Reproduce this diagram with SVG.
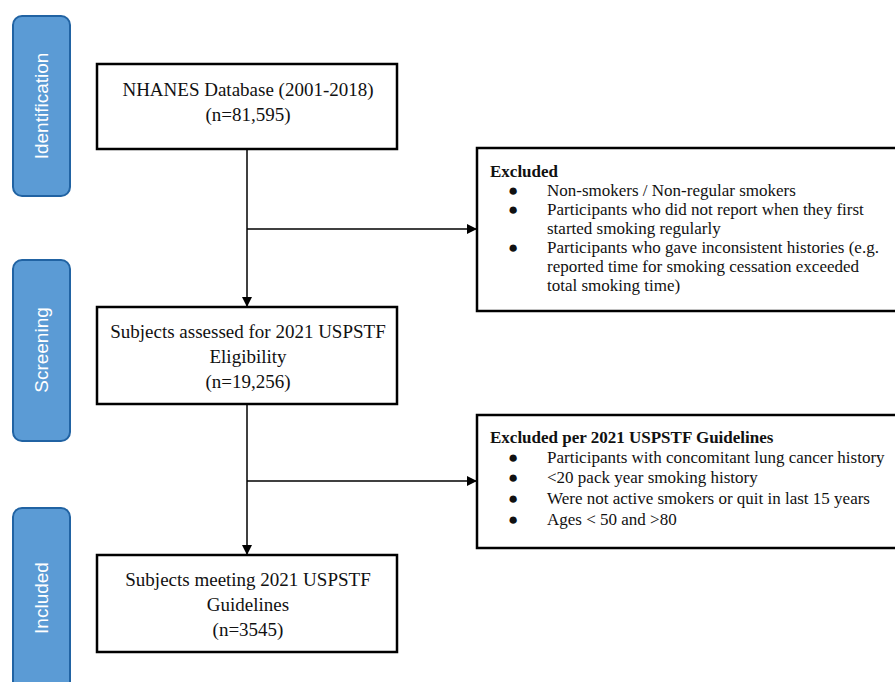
<svg xmlns="http://www.w3.org/2000/svg" width="895" height="682" viewBox="0 0 895 682">
<style>
.stage{fill:#5b9bd5;stroke:#2163a3;stroke-width:2}
.stxt{font-family:"Liberation Sans",Arial,sans-serif;font-size:19px;fill:#ffffff;text-anchor:middle;dominant-baseline:central}
.box{fill:#ffffff;stroke:#000000;stroke-width:2.5}
.t{font-family:"Liberation Serif","Times New Roman",serif;font-size:19px;fill:#111111;text-anchor:middle}
.e{font-family:"Liberation Serif","Times New Roman",serif;font-size:17px;fill:#111111}
.b{font-weight:bold}
.conn{stroke:#000000;stroke-width:1.5;fill:none}
</style>
<defs>
<marker id="arr" viewBox="0 0 10 10" refX="10" refY="5" markerWidth="10" markerHeight="10" markerUnits="userSpaceOnUse" orient="auto">
<path d="M0,0 L10,5 L0,10 z" fill="#000000"/>
</marker>
</defs>
<rect width="895" height="682" fill="#ffffff"/>
<g id="stage-identification">
<rect class="stage" x="13" y="16" width="57" height="180" rx="9"/>
<text class="stxt" transform="translate(41.5,106) rotate(-90)">Identification</text>
</g>
<g id="stage-screening">
<rect class="stage" x="13" y="260" width="57" height="181" rx="9"/>
<text class="stxt" transform="translate(41.5,350) rotate(-90)">Screening</text>
</g>
<g id="stage-included">
<rect class="stage" x="13" y="508" width="57" height="182" rx="9"/>
<text class="stxt" transform="translate(41.5,598) rotate(-90)">Included</text>
</g>
<g id="connectors">
<line class="conn" x1="247" y1="149" x2="247" y2="307" marker-end="url(#arr)"/>
<line class="conn" x1="247" y1="229" x2="477" y2="229" marker-end="url(#arr)"/>
<line class="conn" x1="247" y1="404" x2="247" y2="555" marker-end="url(#arr)"/>
<line class="conn" x1="247" y1="481" x2="477" y2="481" marker-end="url(#arr)"/>
</g>
<g id="node-nhanes">
<rect class="box" x="97" y="64" width="300" height="85"/>
<text class="t" x="248" y="96">NHANES Database (2001-2018)</text>
<text class="t" x="248" y="121">(n=81,595)</text>
</g>
<g id="node-excluded1">
<rect class="box" x="477" y="148" width="430" height="163"/>
<text class="e b" x="490" y="177">Excluded</text>
<g class="e">
<text class="e" x="508" y="196">●</text><text class="e" x="547" y="196">Non-smokers / Non-regular smokers</text>
<text class="e" x="508" y="215">●</text><text class="e" x="547" y="215">Participants who did not report when they first</text>
<text class="e" x="547" y="234">started smoking regularly</text>
<text class="e" x="508" y="253">●</text><text class="e" x="547" y="253">Participants who gave inconsistent histories (e.g.</text>
<text class="e" x="547" y="272">reported time for smoking cessation exceeded</text>
<text class="e" x="547" y="291">total smoking time)</text>
</g>
</g>
<g id="node-assessed">
<rect class="box" x="97" y="307" width="300" height="97"/>
<text class="t" x="248" y="338">Subjects assessed for 2021 USPSTF</text>
<text class="t" x="248" y="363">Eligibility</text>
<text class="t" x="248" y="388">(n=19,256)</text>
</g>
<g id="node-excluded2">
<rect class="box" x="477" y="415" width="430" height="133"/>
<text class="e b" x="490" y="443">Excluded per 2021 USPSTF Guidelines</text>
<text class="e" x="508" y="463">●</text><text class="e" x="547" y="463">Participants with concomitant lung cancer history</text>
<text class="e" x="508" y="483">●</text><text class="e" x="547" y="483">&lt;20 pack year smoking history</text>
<text class="e" x="508" y="504">●</text><text class="e" x="547" y="504">Were not active smokers or quit in last 15 years</text>
<text class="e" x="508" y="525">●</text><text class="e" x="547" y="525">Ages &lt; 50 and &gt;80</text>
</g>
<g id="node-meeting">
<rect class="box" x="97" y="555" width="300" height="97"/>
<text class="t" x="248" y="586">Subjects meeting 2021 USPSTF</text>
<text class="t" x="248" y="611">Guidelines</text>
<text class="t" x="248" y="636">(n=3545)</text>
</g>
</svg>
